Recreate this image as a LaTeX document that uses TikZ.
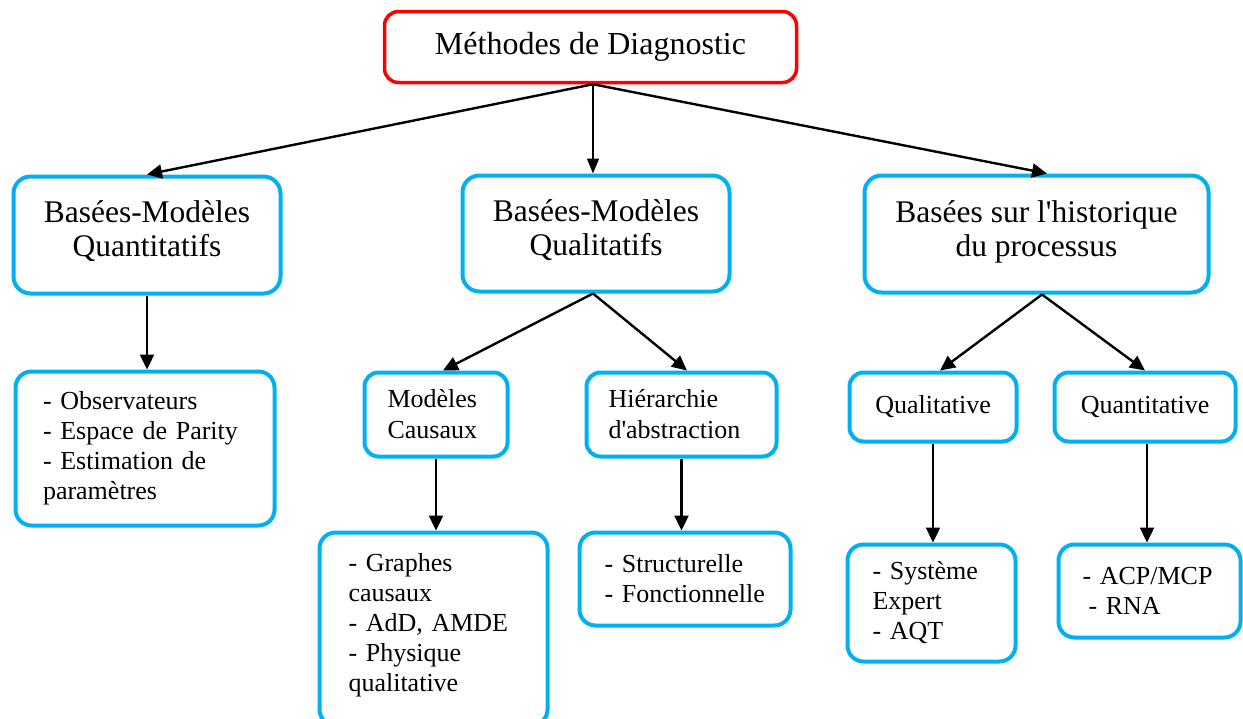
\documentclass[tikz,border=0pt]{standalone}
\usepackage{fontspec}
\setmainfont{Liberation Serif}[Ligatures=TeXOff]
\usetikzlibrary{arrows.meta,calc}
\definecolor{boxblue}{HTML}{00B0F0}
\definecolor{boxred}{HTML}{FF0000}

\begin{document}
\begin{tikzpicture}[x=1pt,y=-1pt,
  every node/.style={inner sep=0pt},
  basebox/.style={draw=boxblue, line width=4pt, fill=white, rounded corners=#1},
  rootbox/.style={draw=boxred, line width=3.5pt, fill=white, rounded corners=14pt,
    font=\fontsize{32}{38}\selectfont},
  catbox/.style={basebox=17pt, align=center, font=\fontsize{31.5}{34}\selectfont},
  subbox/.style={basebox=14pt, font=\fontsize{26}{31}\selectfont},
  listbox/.style={basebox=16pt, align=left, font=\fontsize{26}{30}\selectfont},
  arr/.style={line width=2.4pt, -{Triangle[length=15pt,width=14pt]}},
  thinarr/.style={line width=1.6pt, -{Triangle[length=15pt,width=12pt]}}
]
\useasboundingbox (0,0) rectangle (1243,718);

% root
\node[rootbox, minimum width=412, minimum height=71] (root) at (590.5,47) {Méthodes de Diagnostic};

% first level
\node[catbox, minimum width=267, minimum height=117] (quanti) at (147,235)
  {Basées-Modèles\\Quantitatifs\rule[-12pt]{0pt}{0pt}};
\node[catbox, minimum width=267, minimum height=116] (quali) at (596,233.5)
  {Basées-Modèles\\Qualitatifs\rule[-12pt]{0pt}{0pt}};
\node[catbox, minimum width=344, minimum height=117] (histo) at (1036.5,234)
  {Basées sur l'historique\\du processus\rule[-10pt]{0pt}{0pt}};

% second level
\node[listbox, minimum width=259, minimum height=154, inner xsep=27.5pt, text width=204pt] (obs) at (145,448.5)
  {-~Observateurs\\-~Espace de Parity\\-~Estimation de\\paramètres\rule[-4pt]{0pt}{0pt}};
\node[subbox, align=left, minimum width=143, minimum height=84, inner xsep=23pt, text width=97pt] (causal) at (436,414.5)
  {Modèles\\Causaux};
\node[subbox, align=left, minimum width=190, minimum height=84, inner xsep=22pt, text width=146pt] (hier) at (681.5,414.5)
  {Hiérarchie\\d'abstraction};
\node[subbox, align=center, minimum width=167, minimum height=69] (qualv) at (933,407) {Qualitative};
\node[subbox, align=center, minimum width=181, minimum height=69] (quantv) at (1145,407) {Quantitative};

% third level (lower edge runs past the page)
\node[listbox, minimum width=228, minimum height=193, inner xsep=29pt, text width=170pt] (graphes) at (433.5,629)
  {-~Graphes\\causaux\\-~AdD, AMDE\\-~Physique\\qualitative\rule[-14pt]{0pt}{0pt}};
\node[listbox, minimum width=211, minimum height=93, inner xsep=25pt, text width=161pt] (struct) at (685,579)
  {-~Structurelle\\-~Fonctionnelle};
\node[listbox, minimum width=168, minimum height=117, inner xsep=25pt, text width=118pt] (expert) at (931.5,603)
  {-~Système\\Expert\\-~AQT};
\node[listbox, minimum width=182, minimum height=93, inner xsep=24pt, text width=134pt] (acp) at (1149.5,591)
  {-~ACP/MCP\\\hspace*{6pt}-~RNA};

% connectors
\coordinate (hubA) at ($(root.south)+(2.5,0)$);
\draw[arr] (hubA) -- (quanti.north);
\draw[thinarr] (hubA) -- (hubA |- quali.north);
\draw[arr] (hubA) -- ($(histo.north)+(10.5,0)$);

\draw[arr] (quanti.south) -- (quanti.south |- obs.north);

\coordinate (hubB) at ($(quali.south)+(-3,0)$);
\draw[arr] (hubB) -- ($(causal.north)+(7,0)$);
\draw[arr] (hubB) -- ($(hier.north)+(5.5,0)$);

\coordinate (hubC) at ($(histo.south)+(5.5,0)$);
\draw[arr] (hubC) -- ($(qualv.north)+(7,0)$);
\draw[arr] (hubC) -- (quantv.north);

\coordinate (dropD) at ($(quantv.south)+(2,0)$);
\draw[arr] (causal.south) -- (causal.south |- graphes.north);
\draw[arr] (hier.south) -- (hier.south |- struct.north);
\draw[arr] (qualv.south) -- (qualv.south |- expert.north);
\draw[arr] (dropD) -- (dropD |- acp.north);
\end{tikzpicture}
\end{document}
